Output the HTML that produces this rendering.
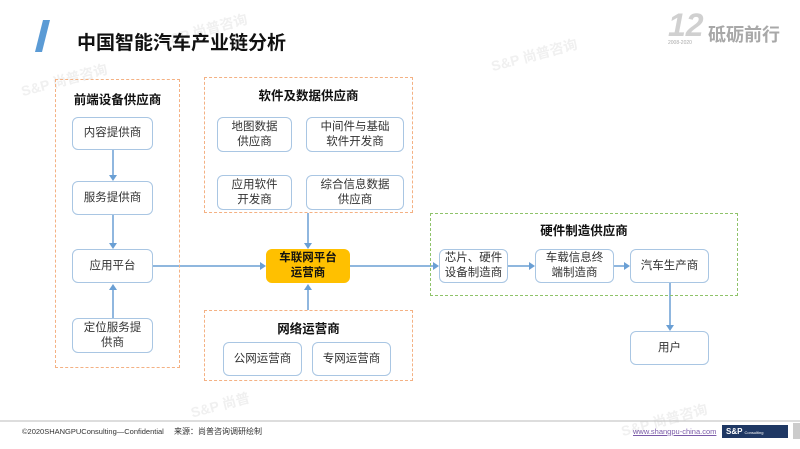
<!DOCTYPE html>
<html><head><meta charset="utf-8"><style>
body{margin:0;width:800px;height:449px;background:#fff;position:relative;overflow:hidden;font-family:"Liberation Sans","Noto Sans CJK SC",sans-serif;color:#222}
.a{position:absolute}
.n{position:absolute;box-sizing:border-box;border:1.3px solid #a9c6e3;border-radius:6px;background:#fff;display:flex;align-items:center;justify-content:center;text-align:center;font-size:11.5px;line-height:15px;color:#333}
.g{position:absolute;box-sizing:border-box;border:1.5px dashed #f4b183}
.t{position:absolute;font-weight:bold;font-size:12.5px;text-align:center;color:#111}
.wm{position:absolute;color:#f0f0f0;font-weight:bold;transform:rotate(-15deg);font-size:14px}
</style></head><body>
<div class="wm" style="left:160px;top:20px">S&amp;P 尚普咨询</div>
<div class="wm" style="left:490px;top:45px">S&amp;P 尚普咨询</div>
<div class="wm" style="left:20px;top:70px">S&amp;P 尚普咨询</div>
<div class="wm" style="left:620px;top:410px">S&amp;P 尚普咨询</div>
<div class="wm" style="left:190px;top:395px">S&amp;P 尚普</div>
<svg class="a" style="left:0;top:0" width="800" height="449">
<polygon points="43,20 50,20 42,52 35,52" fill="#5b9bd5"/>
<line x1="0" y1="421" x2="800" y2="421" stroke="#bbb" stroke-width="1"/>
<rect x="793" y="423" width="7" height="16" fill="#ccc"/>
<g stroke="#6a9fd4" stroke-width="1.5" fill="#6a9fd4">
<line x1="113" y1="150" x2="113" y2="176"/><polygon points="109,175 117,175 113,181" stroke="none"/>
<line x1="113" y1="215" x2="113" y2="244"/><polygon points="109,243 117,243 113,249" stroke="none"/>
<line x1="113" y1="318" x2="113" y2="289"/><polygon points="109,290 117,290 113,284" stroke="none"/>
<line x1="153" y1="266" x2="260" y2="266"/><polygon points="260,262 260,270 266,266" stroke="none"/>
<line x1="308" y1="213" x2="308" y2="244"/><polygon points="304,243 312,243 308,249" stroke="none"/>
<line x1="308" y1="310" x2="308" y2="289"/><polygon points="304,290 312,290 308,284" stroke="none"/>
<line x1="350" y1="266" x2="433" y2="266"/><polygon points="433,262 433,270 439,266" stroke="none"/>
<line x1="508" y1="266" x2="529" y2="266"/><polygon points="529,262 529,270 535,266" stroke="none"/>
<line x1="614" y1="266" x2="624" y2="266"/><polygon points="624,262 624,270 630,266" stroke="none"/>
<line x1="670" y1="283" x2="670" y2="326"/><polygon points="666,325 674,325 670,331" stroke="none"/>
</g>
</svg>
<div class="a" style="left:77px;top:28px;font-size:19px;font-weight:bold;color:#111">中国智能汽车产业链分析</div>
<div class="a" style="left:668px;top:8px;font-size:32px;font-style:italic;font-weight:bold;color:#d0d0d0;line-height:34px">12</div>
<div class="a" style="left:668px;top:40px;font-size:5px;color:#aaa">2008-2020</div>
<div class="a" style="left:708px;top:21px;font-size:18px;font-weight:bold;color:#a8a8a8">砥砺前行</div>

<div class="g" style="left:55px;top:79px;width:125px;height:289px"></div>
<div class="t" style="left:55px;top:89px;width:125px">前端设备供应商</div>
<div class="n" style="left:72px;top:117px;width:81px;height:33px">内容提供商</div>
<div class="n" style="left:72px;top:181px;width:81px;height:34px">服务提供商</div>
<div class="n" style="left:72px;top:249px;width:81px;height:34px">应用平台</div>
<div class="n" style="left:72px;top:318px;width:81px;height:35px">定位服务提<br>供商</div>

<div class="g" style="left:204px;top:77px;width:209px;height:136px"></div>
<div class="t" style="left:204px;top:85px;width:209px">软件及数据供应商</div>
<div class="n" style="left:217px;top:117px;width:75px;height:35px">地图数据<br>供应商</div>
<div class="n" style="left:306px;top:117px;width:98px;height:35px">中间件与基础<br>软件开发商</div>
<div class="n" style="left:217px;top:175px;width:75px;height:35px">应用软件<br>开发商</div>
<div class="n" style="left:306px;top:175px;width:98px;height:35px">综合信息数据<br>供应商</div>

<div class="n" style="left:266px;top:249px;width:84px;height:34px;background:#ffc000;border-color:#ffc000;font-weight:bold;color:#111">车联网平台<br>运营商</div>

<div class="g" style="left:204px;top:310px;width:209px;height:71px"></div>
<div class="t" style="left:204px;top:318px;width:209px">网络运营商</div>
<div class="n" style="left:223px;top:342px;width:79px;height:34px">公网运营商</div>
<div class="n" style="left:312px;top:342px;width:79px;height:34px">专网运营商</div>

<div class="g" style="left:430px;top:213px;width:308px;height:83px;border-color:#8fc36a"></div>
<div class="t" style="left:430px;top:220px;width:308px">硬件制造供应商</div>
<div class="n" style="left:439px;top:249px;width:69px;height:34px">芯片、硬件<br>设备制造商</div>
<div class="n" style="left:535px;top:249px;width:79px;height:34px">车载信息终<br>端制造商</div>
<div class="n" style="left:630px;top:249px;width:79px;height:34px">汽车生产商</div>
<div class="n" style="left:630px;top:331px;width:79px;height:34px">用户</div>

<div class="a" style="left:22px;top:427px;font-size:7.5px;color:#333">©2020SHANGPUConsulting—Confidential</div>
<div class="a" style="left:174px;top:426px;font-size:8px;color:#333">来源：尚普咨询调研绘制</div>
<div class="a" style="left:633px;top:427px;font-size:7.5px;color:#7a5aa8;text-decoration:underline">www.shangpu-china.com</div>
<div class="a" style="left:722px;top:425px;width:66px;height:13px;background:#1f3864;color:#fff;font-size:8px;font-weight:bold;line-height:13px;padding-left:4px;box-sizing:border-box">S&amp;P <span style="font-size:4px;font-weight:normal">Consulting</span></div>
</body></html>
